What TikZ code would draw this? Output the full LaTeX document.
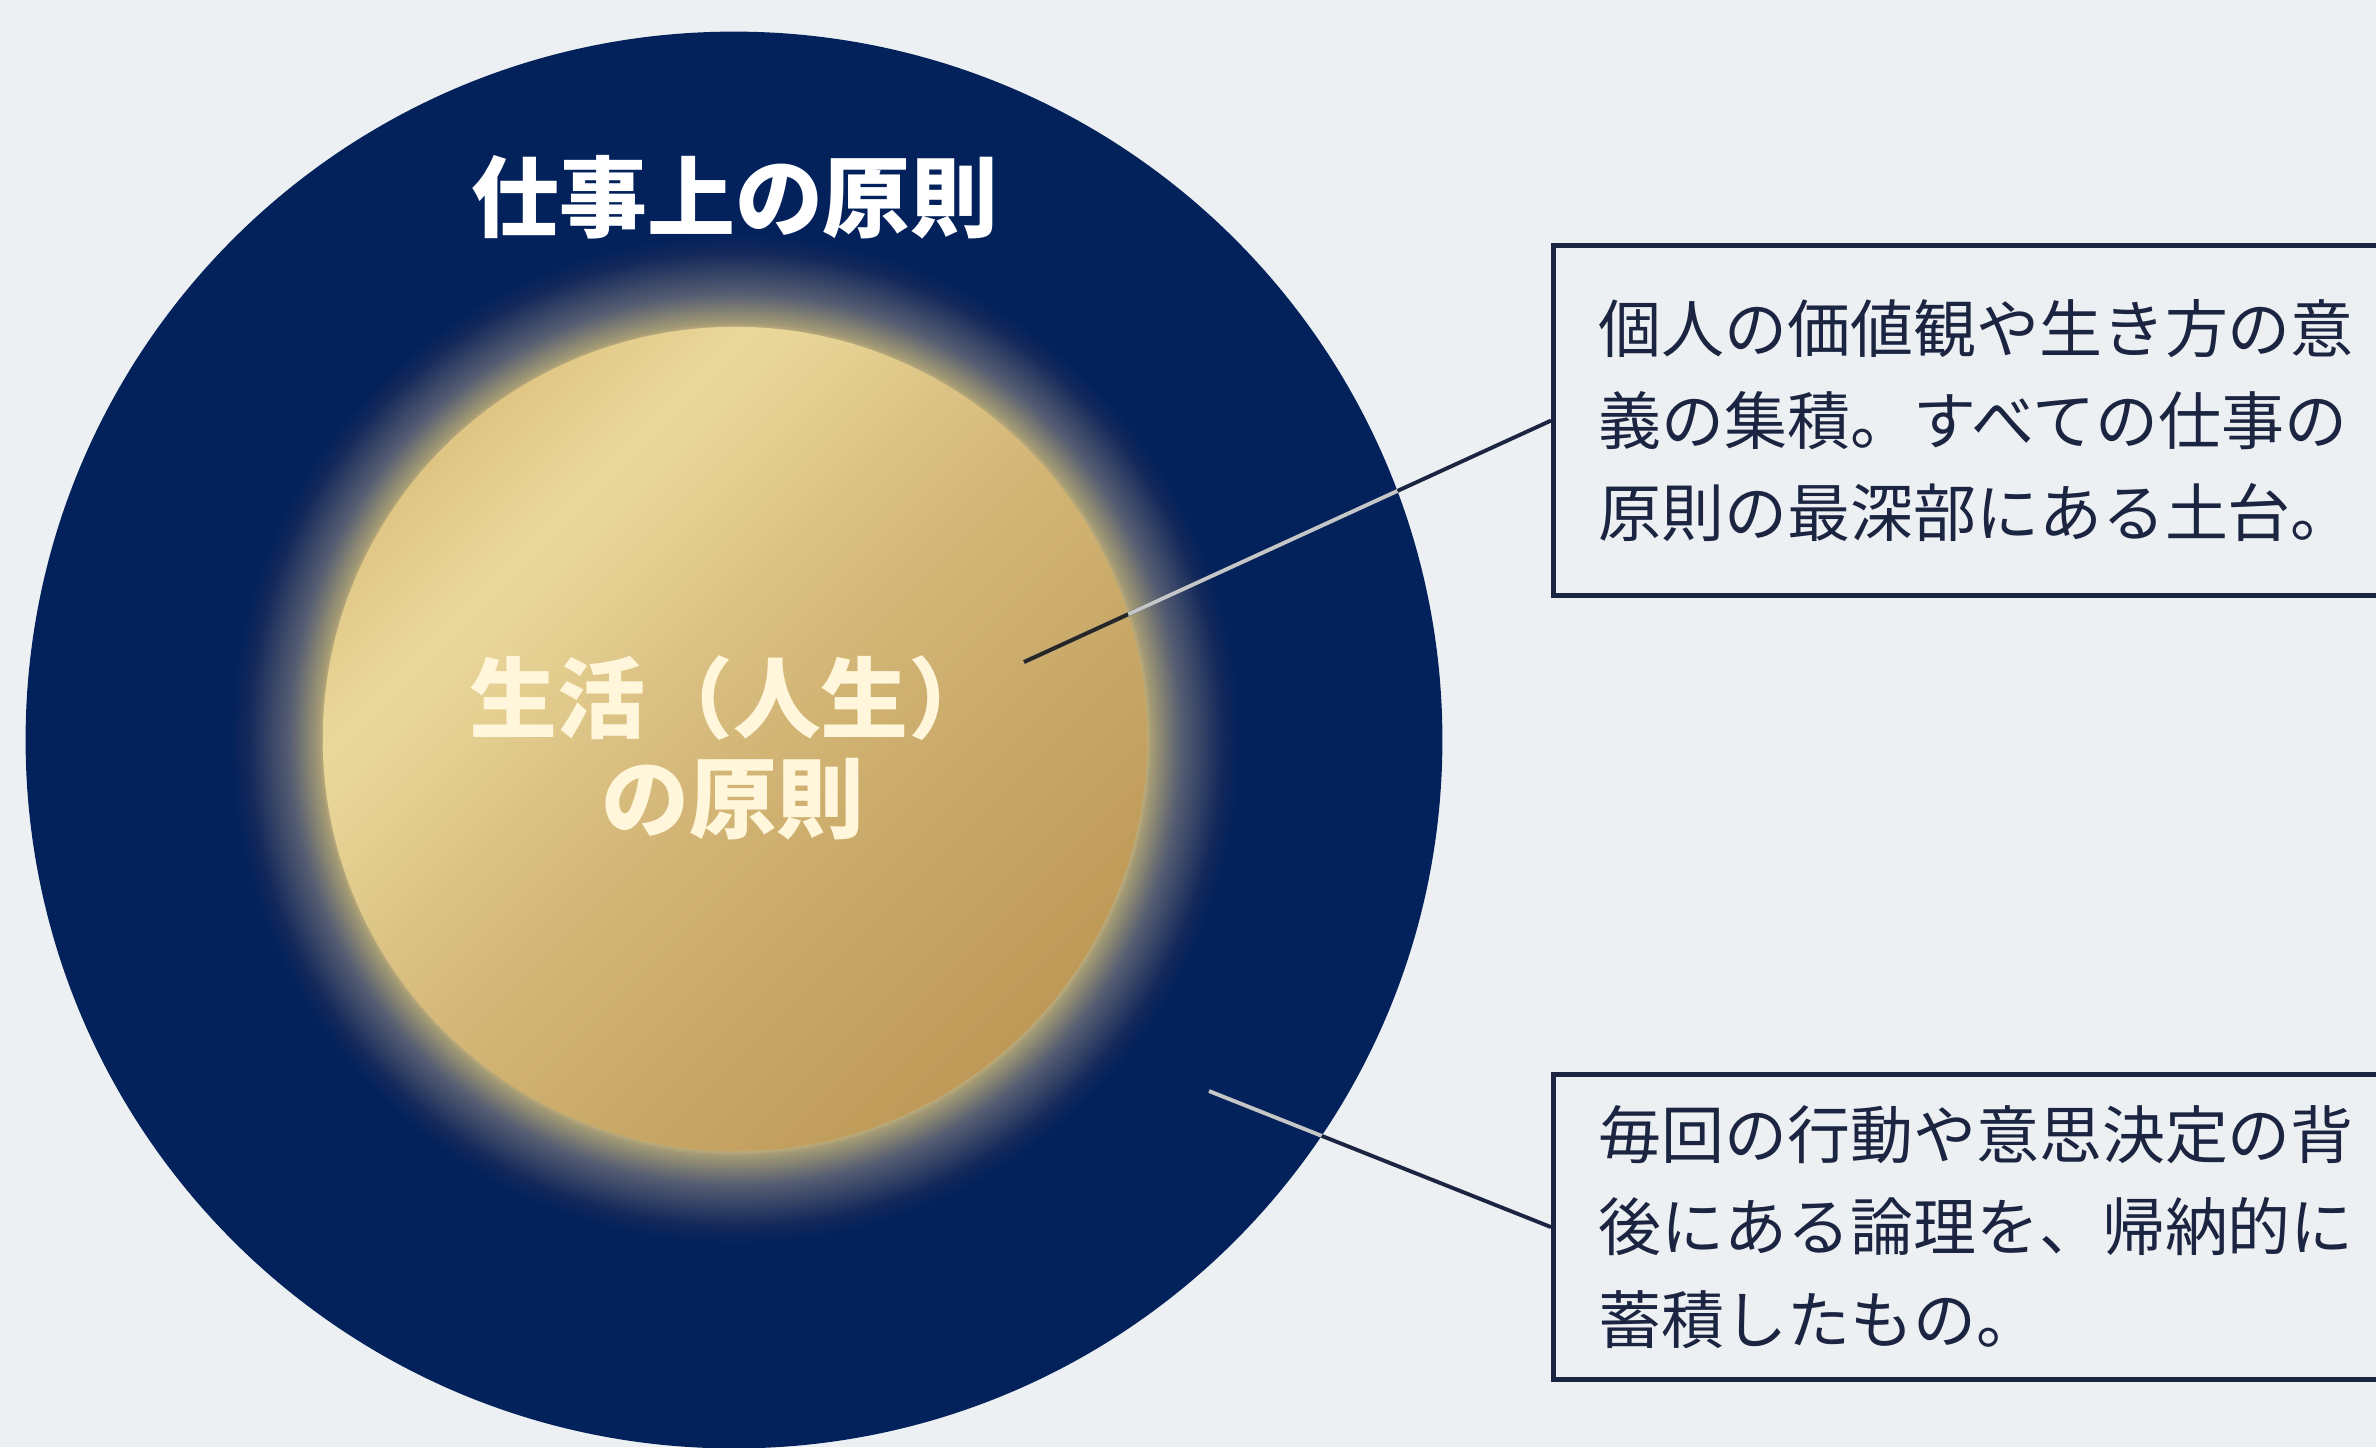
\documentclass[tikz,border=0pt]{standalone}
\usepackage{fontspec}
\newfontfamily\cjk{Noto Sans CJK JP}
\definecolor{bg}{HTML}{EDF0F2}
\definecolor{navy}{HTML}{03225C}
\definecolor{boxc}{HTML}{1B2440}
\definecolor{creme}{HTML}{FFF6DC}
\definecolor{gA}{HTML}{DFC584}
\definecolor{gB}{HTML}{EAD89B}
\definecolor{gC}{HTML}{E3CE8F}
\definecolor{gD}{HTML}{DAC082}
\definecolor{gE}{HTML}{D1B373}
\definecolor{gF}{HTML}{C8A766}
\definecolor{gG}{HTML}{BE9958}
\definecolor{hA}{HTML}{D2BB80}
\definecolor{hB}{HTML}{A39A74}
\definecolor{hC}{HTML}{565E72}
\definecolor{hD}{HTML}{14285A}
\definecolor{lightline}{HTML}{C4C6C8}
\pgfdeclarehorizontalshading{goldsh}{100bp}{color(0bp)=(gA); color(25bp)=(gA); color(33bp)=(gB); color(39bp)=(gC); color(45bp)=(gD); color(53bp)=(gE); color(63bp)=(gF); color(75bp)=(gG); color(100bp)=(gG)}
\pgfdeclareradialshading{glowsh}{\pgfpoint{0bp}{0bp}}{color(0bp)=(hA); color(19.6bp)=(hA); color(20bp)=(hB); color(21.4bp)=(hC); color(23.4bp)=(hD); color(24.2bp)=(navy); color(50bp)=(navy)}
\tikzset{
  boxnode/.style={draw=boxc, line width=1.4pt, anchor=north west, text width=8.0cm, inner xsep=0.45cm, inner ysep=0pt, align=left, text=boxc, font=\cjk\fontsize{17.9}{26.2}\selectfont},
  titletext/.style={text=white, font=\cjk\bfseries\fontsize{25}{30}\selectfont, inner sep=0pt},
  coretext/.style={text=creme, align=center, font=\cjk\bfseries\fontsize{25}{28.5}\selectfont, inner sep=0pt},
  conn/.style={draw=boxc, line width=1.1pt},
  connlight/.style={draw=lightline, line width=1.1pt},
  conndark/.style={draw=black!85, line width=1.1pt}
}
\begin{document}
\begin{tikzpicture}[x=0.01cm, y=-0.01cm]
\useasboundingbox (0,0) rectangle (2376,1447);
\fill[bg] (0,0) rectangle (2376,1447);
\clip (0,0) rectangle (2376,1447);
% outer circle
\fill[navy] (734,740) circle [radius=7.08cm];
% glow
\shade[shading=glowsh] (735,739) circle [radius=5.2cm];
% gold core
\shade[shading=goldsh, shading angle=-45] (735,739) circle [radius=4.12cm];
% texts in circles
\node[titletext] (title) at (735,197) {仕事上の原則};
\node[coretext] (core) at (733,748) {生活（人生）\\の原則};
% boxes
\node[boxnode, minimum height=3.5cm] (boxA) at (1551,243) {個人の価値観や生き方の意\\義の集積。すべての仕事の\\原則の最深部にある土台。};
\node[boxnode, minimum height=3.05cm] (boxB) at (1551,1072) {毎回の行動や意思決定の背\\後にある論理を、帰納的に\\蓄積したもの。};
% connectors
\coordinate (pA) at (1024,662);
\coordinate (pB) at (1209,1091);
\draw[conn] (pA) -- (boxA.west);
\draw[conn] (pB) -- (boxB.west);
\begin{scope}
  \clip (734,740) circle [radius=7.08cm];
  \draw[connlight] (pA) -- (boxA.west);
  \draw[connlight] (pB) -- (boxB.west);
\end{scope}
\begin{scope}
  \clip (735,739) circle [radius=4.12cm];
  \draw[conndark] (pA) -- (boxA.west);
\end{scope}
\end{tikzpicture}
\end{document}
